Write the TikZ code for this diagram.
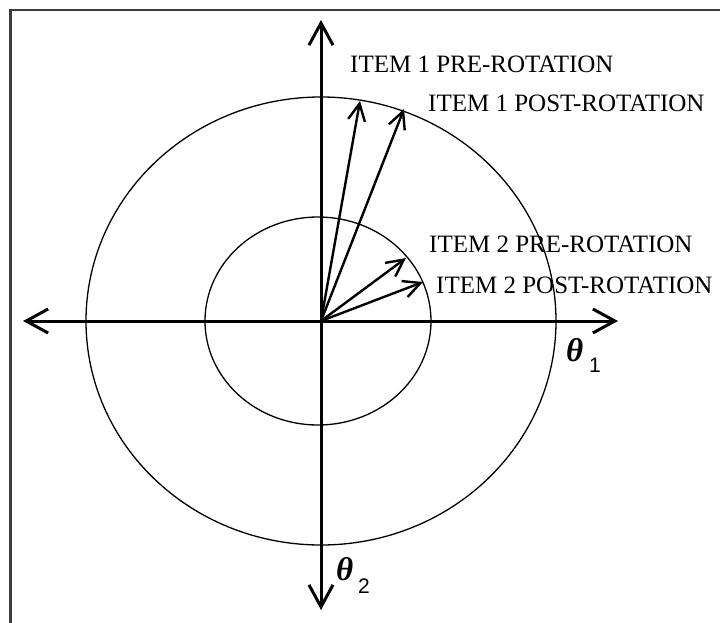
\documentclass[tikz,border=0pt]{standalone}
\usepackage{fontspec}
\setmainfont{Liberation Serif}
\newfontfamily\labsans{Liberation Sans}
\usetikzlibrary{arrows.meta}
\definecolor{framegray}{HTML}{3C3C3C}
\begin{document}
\begin{tikzpicture}[x=1pt,y=-1pt,
  frame/.style={draw=framegray,line width=2.5pt},
  axis/.style={line width=3pt,{Straight Barb[length=22pt,width=24pt]}-{Straight Barb[length=22pt,width=24pt]}},
  vec/.style={line width=2.4pt,-{Straight Barb[length=17pt,width=17pt]}},
  ring/.style={line width=1.3pt},
  lab/.style={anchor=base west,inner sep=0pt,font=\fontsize{25}{30}\selectfont},
  thetalab/.style={anchor=base west,inner sep=0pt,font=\fontsize{33}{34}\selectfont\bfseries\itshape},
  sublab/.style={anchor=base west,inner sep=0pt,font=\labsans\fontsize{21}{22}\selectfont}]
\useasboundingbox (0,0) rectangle (720,623);
\clip (0,0) rectangle (720,623);
\fill[white] (0,0) rectangle (720,623);
\draw[frame] (10.5,640) -- (10.5,10) -- (740,10);
\coordinate (O) at (321,321);
\coordinate (L) at (23,321);
\coordinate (R) at (618,321);
\coordinate (T) at (321,20);
\coordinate (B) at (321,610);
\draw[ring] (O) ellipse [x radius=235pt, y radius=224pt];
\draw[ring] (318,321) ellipse [x radius=113pt, y radius=104pt];
\draw[axis] (L) -- (R);
\draw[axis] (B) -- (T);
\coordinate (a1) at (360,101);
\coordinate (b1) at (404,109);
\coordinate (a2) at (406,258);
\coordinate (b2) at (423,282);
\draw[vec] (O) -- (a1);
\draw[vec] (O) -- (b1);
\draw[vec] (O) -- (a2);
\draw[vec] (O) -- (b2);
\node[lab] (l1) at (350,73) {ITEM 1 PRE-ROTATION};
\node[lab] (l2) at (428,112) {ITEM 1 POST-ROTATION};
\node[lab] (l3) at (429,252) {ITEM 2 PRE-ROTATION};
\node[lab] (l4) at (436,293) {ITEM 2 POST-ROTATION};
\node[thetalab] (t1) at (566,361) {θ};
\node[sublab] (s1) at (589,372) {1};
\node[thetalab] (t2) at (336,580) {θ};
\node[sublab] (s2) at (358,593) {2};
\end{tikzpicture}
\end{document}
